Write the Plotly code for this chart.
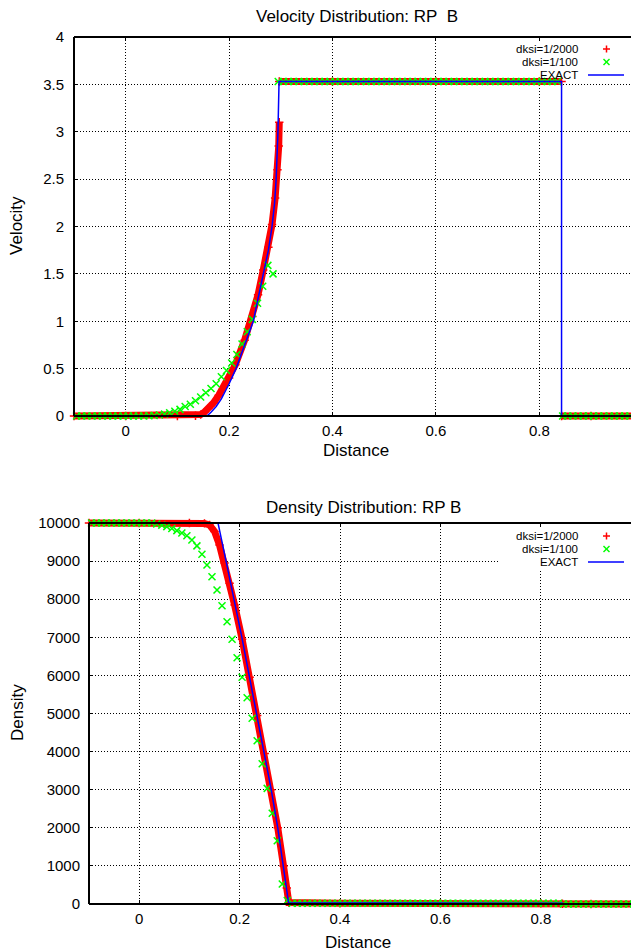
import plotly.graph_objects as go

# ---------------------------------------------------------------- data
# cell-centre grid of the coarse run (dksi = 1/100)
green_x = [
    -0.095, -0.085, -0.075, -0.065, -0.055, -0.045, -0.035, -0.025, -0.015, -0.005,
    0.005, 0.015, 0.025, 0.035, 0.045, 0.055, 0.065, 0.075, 0.085, 0.095,
    0.105, 0.115, 0.125, 0.135, 0.145, 0.155, 0.165, 0.175, 0.185, 0.195,
    0.205, 0.215, 0.225, 0.235, 0.245, 0.255, 0.265, 0.275, 0.285, 0.295,
    0.305, 0.315, 0.325, 0.335, 0.345, 0.355, 0.365, 0.375, 0.385, 0.395,
    0.405, 0.415, 0.425, 0.435, 0.445, 0.455, 0.465, 0.475, 0.485, 0.495,
    0.505, 0.515, 0.525, 0.535, 0.545, 0.555, 0.565, 0.575, 0.585, 0.595,
    0.605, 0.615, 0.625, 0.635, 0.645, 0.655, 0.665, 0.675, 0.685, 0.695,
    0.705, 0.715, 0.725, 0.735, 0.745, 0.755, 0.765, 0.775, 0.785, 0.795,
    0.805, 0.815, 0.825, 0.835, 0.845, 0.855, 0.865, 0.875, 0.885, 0.895,
    0.905, 0.915, 0.925, 0.935, 0.945, 0.955, 0.965, 0.975, 0.985, 0.995,
]

vel_green = [
    0, 0, 0, 0, 0, 0, 0, 0, 0, 0,
    0, 0, 0, 0, 0.002, 0.005, 0.01, 0.02, 0.035, 0.05,
    0.07, 0.1, 0.125, 0.16, 0.2, 0.245, 0.29, 0.34, 0.415, 0.48,
    0.56, 0.65, 0.76, 0.89, 1.02, 1.19, 1.37, 1.59, 1.5, 3.53,
    3.53, 3.53, 3.53, 3.53, 3.53, 3.53, 3.53, 3.53, 3.53, 3.53,
    3.53, 3.53, 3.53, 3.53, 3.53, 3.53, 3.53, 3.53, 3.53, 3.53,
    3.53, 3.53, 3.53, 3.53, 3.53, 3.53, 3.53, 3.53, 3.53, 3.53,
    3.53, 3.53, 3.53, 3.53, 3.53, 3.53, 3.53, 3.53, 3.53, 3.53,
    3.53, 3.53, 3.53, 3.53, 3.53, 3.53, 3.53, 3.53, 3.53, 3.53,
    3.53, 3.53, 3.53, 3.53, 0, 0, 0, 0, 0, 0,
    0, 0, 0, 0, 0, 0, 0, 0, 0, 0,
]

dens_green = [
    10000, 10000, 10000, 10000, 10000, 10000, 10000, 10000, 10000, 10000,
    10000, 10000, 10000, 9975, 9945, 9905, 9855, 9800, 9740, 9665,
    9555, 9400, 9180, 8900, 8590, 8240, 7830, 7410, 6950, 6465,
    5950, 5415, 4875, 4285, 3680, 3035, 2380, 1660, 525, 90,
    20, 20, 20, 20, 20, 20, 20, 20, 20, 20,
    20, 20, 20, 20, 20, 20, 20, 20, 20, 20,
    20, 20, 20, 20, 20, 20, 20, 20, 20, 20,
    20, 20, 20, 20, 20, 20, 20, 20, 20, 20,
    20, 20, 20, 20, 20, 20, 20, 20, 20, 20,
    20, 20, 20, 20, 1, 1, 1, 1, 1, 1,
    1, 1, 1, 1, 1, 1, 1, 1, 1, 1,
]

# fine run (dksi = 1/2000), read at key points
vel_red_x = [-0.1, 0.0, 0.1, 0.135, 0.145, 0.152, 0.16, 0.17, 0.18, 0.19, 0.2,
             0.212, 0.23, 0.245, 0.256, 0.266, 0.276, 0.283, 0.289, 0.2935,
             0.296, 0.297, None, 0.297, 0.4, 0.6, 0.8, 0.843, None, 0.843, 0.9, 1.0]
vel_red = [0, 0, 0, 0.003, 0.015, 0.04, 0.08, 0.14, 0.22, 0.31, 0.4,
           0.54, 0.8, 1.05, 1.28, 1.54, 1.78, 2.02, 2.3, 2.6,
           2.85, 3.1, None, 3.53, 3.53, 3.53, 3.53, 3.53, None, 0, 0, 0]

dens_red_x = [-0.1, 0.0, 0.1, 0.13, 0.14, 0.15, 0.16, 0.17, 0.18, 0.19, 0.205,
              0.22, 0.235, 0.25, 0.263, 0.276, 0.2875, 0.294, 0.298, 0.4, 0.6,
              0.8, 0.843, 0.9, 1.0]
dens_red = [10000, 10000, 10000, 9990, 9950, 9780, 9420, 8950, 8420, 7850, 6950,
            5950, 4950, 3950, 3000, 2000, 1000, 420, 40, 20, 20,
            20, 5, 1, 1]

# exact solution
vel_exact_x = [-0.1, 0.157, 0.165, 0.175, 0.185, 0.2, 0.2134, 0.23, 0.2468, 0.256,
               0.266, 0.276, 0.283, 0.288, 0.291, 0.2945, 0.2966, 0.843, 0.843, 1.0]
vel_exact = [0, 0, 0.04, 0.1, 0.18, 0.34, 0.5, 0.74, 1.0, 1.24,
             1.5, 1.75, 2.0, 2.25, 2.5, 3.0, 3.53, 3.53, 0, 0]

dens_exact_x = [-0.1, 0.157, 0.173, 0.189, 0.2045, 0.219, 0.234, 0.249, 0.263,
                0.276, 0.2875, 0.2975, 0.843, 0.843, 1.0]
dens_exact = [10000, 10000, 9000, 8000, 7000, 6000, 5000, 4000, 3000,
              2000, 1000, 30, 20, 1, 1]

x_ticks = [0, 0.2, 0.4, 0.6, 0.8]
x_tick_labels = ["0", "0.2", "0.4", "0.6", "0.8"]
vel_ticks = [0, 0.5, 1, 1.5, 2, 2.5, 3, 3.5, 4]
vel_tick_labels = ["0", "0.5", "1", "1.5", "2", "2.5", "3", "3.5", "4"]
dens_ticks = [0, 1000, 2000, 3000, 4000, 5000, 6000, 7000, 8000, 9000, 10000]
dens_tick_labels = [str(v) for v in dens_ticks]

series_names = ["dksi=1/2000", "dksi=1/100", "EXACT"]

# ---------------------------------------------------------------- layout
PAGE_W, PAGE_H = 639, 951
OFF = 8                      # default page margin of the html body
W, H = PAGE_W - OFF, PAGE_H - OFF
FONT = "Liberation Sans, Arial, Helvetica, sans-serif"
RED, GREEN, BLUE = "#ff0000", "#00ff00", "#0000ff"


def fx(px):
    return (px - OFF) / W


def fy(py):
    return (H - (py - OFF)) / H


panels = [
    dict(box=(74, 37, 639, 416), xr=(-0.1, 0.9928), yr=(0, 4),
         yt=vel_ticks, ytl=vel_tick_labels,
         red=(vel_red_x, vel_red), green=vel_green, exact=(vel_exact_x, vel_exact),
         title="Velocity Distribution: RP\u00a0 B", title_y=17, xlab=(356, 450),
         ylab="Velocity", ylab_y=226, xstand=4, ystand=9,
         leg_y=(49, 62, 75), box_y=(38, 79)),
    dict(box=(89, 523, 639, 904), xr=(-0.1, 0.9956), yr=(0, 10000),
         yt=dens_ticks, ytl=dens_tick_labels,
         red=(dens_red_x, dens_red), green=dens_green, exact=(dens_exact_x, dens_exact),
         title="Density Distribution: RP B", title_y=507, xlab=(358, 942),
         ylab="Density", ylab_y=713, xstand=4, ystand=8,
         leg_y=(536, 549, 562), box_y=(524, 569)),
]

fig = go.Figure()
layout = dict(width=W, height=H, margin=dict(l=0, r=0, t=0, b=0),
              paper_bgcolor="white", plot_bgcolor="rgba(0,0,0,0)",
              showlegend=False, font=dict(family=FONT, color="black"))
shapes, annotations = [], []
EXT = 6


def seg(x0, y0, x1, y1, color, width):
    return dict(type="line", xref="paper", yref="paper", layer="above",
                x0=fx(x0), y0=fy(y0), x1=fx(x1), y1=fy(y1),
                line=dict(color=color, width=width))


for i, p in enumerate(panels):
    l, t, r, b = p["box"]
    x0, x1 = p["xr"]
    y0, y1 = p["yr"]
    sx = (r - l) / (x1 - x0)
    sy = (b - t) / (y1 - y0)
    fa = "" if i == 0 else "2"          # frame axes
    da = str(i + 3)                     # data axes
    tickfont = dict(family=FONT, size=15, color="black")
    layout["xaxis" + fa] = dict(
        domain=[fx(l), fx(r)], range=[x0, x1], anchor="y" + fa,
        tickmode="array", tickvals=x_ticks, ticktext=x_tick_labels,
        ticks="inside", ticklen=4, tickwidth=1, tickcolor="black", mirror="ticks",
        showgrid=True, gridcolor="black", gridwidth=1, griddash="1px,2px",
        zeroline=False, showline=False, tickfont=tickfont,
        ticklabelstandoff=p["xstand"], automargin=False, fixedrange=True)
    layout["yaxis" + fa] = dict(
        domain=[fy(b), fy(t)], range=[y0, y1], anchor="x" + fa,
        tickmode="array", tickvals=p["yt"], ticktext=p["ytl"],
        ticks="inside", ticklen=4, tickwidth=1, tickcolor="black",
        showgrid=True, gridcolor="black", gridwidth=1, griddash="1px,2px",
        zeroline=False, showline=False, tickfont=tickfont,
        ticklabelstandoff=p["ystand"], automargin=False, fixedrange=True)
    # data axes: same scale, slightly larger clip area
    layout["xaxis" + da] = dict(
        domain=[fx(l - EXT), fx(r)], range=[x0 - EXT / sx, x1],
        anchor="y" + da, visible=False, fixedrange=True)
    layout["yaxis" + da] = dict(
        domain=[fy(b + EXT), fy(t - EXT)], range=[y0 - EXT / sy, y1 + EXT / sy],
        anchor="x" + da, visible=False, fixedrange=True)

    xa, ya = "x" + da, "y" + da
    rx, ry = p["red"]
    fig.add_trace(go.Scatter(
        x=rx, y=ry, xaxis=xa, yaxis=ya, mode="lines+markers", name=series_names[0],
        line=dict(color=RED, width=7), connectgaps=False, cliponaxis=False,
        marker=dict(symbol="cross-thin", size=6, color=RED, line=dict(color=RED, width=1.5))))
    fig.add_trace(go.Scatter(
        x=green_x, y=p["green"], xaxis=xa, yaxis=ya, mode="markers", name=series_names[1],
        cliponaxis=False,
        marker=dict(symbol="x-thin", size=7, color=GREEN, line=dict(color=GREEN, width=1.5))))
    ex, ey = p["exact"]
    fig.add_trace(go.Scatter(
        x=ex, y=ey, xaxis=xa, yaxis=ya, mode="lines", name=series_names[2],
        line=dict(color=BLUE, width=1.5)))

    # border (front)
    for (ax0, ay0, ax1, ay1) in [(l, b, l, t), (l, b, r, b), (l, t, r, t)]:
        shapes.append(seg(ax0, ay0, ax1, ay1, "black", 2))

    # key background
    def dx(px):
        return x0 + (px - l) / sx

    def dy(py):
        return y0 + (b - py) / sy

    shapes.append(dict(type="rect", xref="x" + fa, yref="y" + fa, layer="between",
                       x0=dx(498), x1=dx(633), y0=dy(p["box_y"][1]), y1=dy(p["box_y"][0]),
                       fillcolor="white", line=dict(width=0)))

    # titles
    annotations.append(dict(text=p["title"], x=fx((l + r) / 2), y=fy(p["title_y"]),
                            xref="paper", yref="paper", showarrow=False,
                            xanchor="center", yanchor="middle",
                            font=dict(family=FONT, size=17, color="black")))
    annotations.append(dict(text="Distance", x=fx(p["xlab"][0]), y=fy(p["xlab"][1]),
                            xref="paper", yref="paper", showarrow=False,
                            xanchor="center", yanchor="middle",
                            font=dict(family=FONT, size=17, color="black")))
    annotations.append(dict(text=p["ylab"], x=fx(17), y=fy(p["ylab_y"]),
                            xref="paper", yref="paper", showarrow=False, textangle=-90,
                            xanchor="center", yanchor="middle",
                            font=dict(family=FONT, size=17, color="black")))
    # key
    for k, name in enumerate(series_names):
        annotations.append(dict(text=name, x=fx(580), y=fy(p["leg_y"][k]),
                                xref="paper", yref="paper", showarrow=False,
                                xanchor="right", yanchor="middle",
                                font=dict(family=FONT, size=11.5, color="black")))
    ly0, ly1, ly2 = p["leg_y"]
    shapes.append(seg(603, ly0, 610, ly0, RED, 1.5))
    shapes.append(seg(606.5, ly0 - 3.5, 606.5, ly0 + 3.5, RED, 1.5))
    shapes.append(seg(603.5, ly1 - 3, 609.5, ly1 + 3, GREEN, 1.5))
    shapes.append(seg(603.5, ly1 + 3, 609.5, ly1 - 3, GREEN, 1.5))
    shapes.append(seg(588, ly2, 624, ly2, BLUE, 1.5))

layout["shapes"] = shapes
layout["annotations"] = annotations
fig.update_layout(**layout)
fig.write_html("out.html")
